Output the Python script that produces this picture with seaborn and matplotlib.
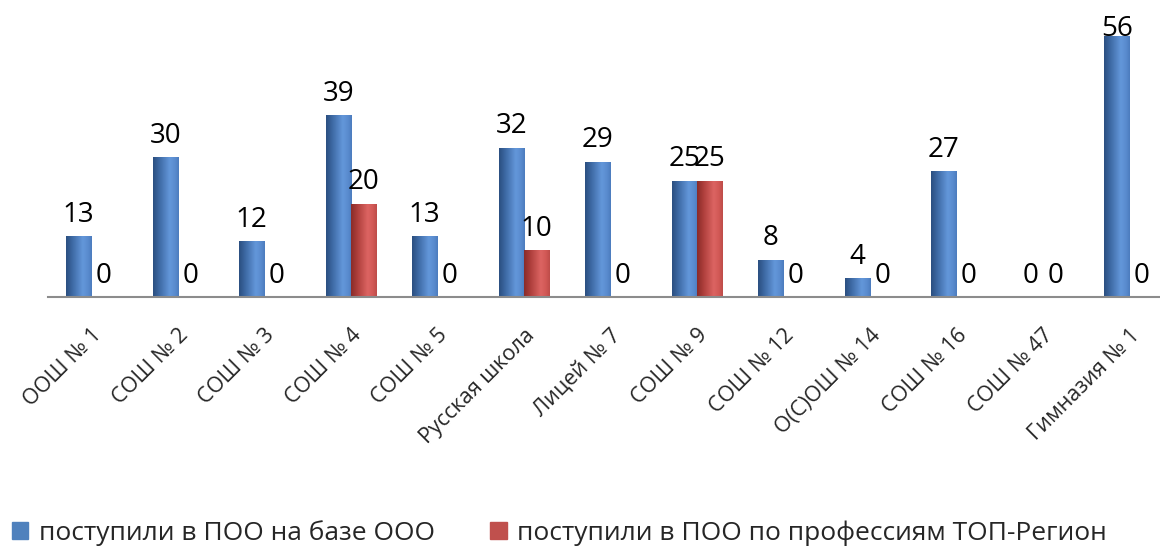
import numpy as np
import pandas as pd
import matplotlib
matplotlib.use("Agg")
import matplotlib.pyplot as plt
import matplotlib.patches as mpatches
from matplotlib.colors import LinearSegmentedColormap
import seaborn as sns

categories = ["ООШ № 1", "СОШ № 2", "СОШ № 3", "СОШ № 4", "СОШ № 5", "Русская школа",
              "Лицей № 7", "СОШ № 9", "СОШ № 12", "О(С)ОШ № 14", "СОШ № 16", "СОШ № 47",
              "Гимназия № 1"]
series_names = ["поступили в ПОО на базе ООО", "поступили в ПОО по профессиям ТОП-Регион"]
base_values = [13, 30, 12, 39, 13, 32, 29, 25, 8, 4, 27, 0, 56]
top_values = [0, 0, 0, 20, 0, 10, 0, 25, 0, 0, 0, 0, 0]

sns.set_theme(style="white")
FONT = ["Open Sans", "DejaVu Sans"]
plt.rcParams["font.family"] = FONT

df = pd.DataFrame({
    "cat": categories * 2,
    "series": [series_names[0]] * len(categories) + [series_names[1]] * len(categories),
    "value": base_values + top_values,
})

W, H = 1160, 550
fig = plt.figure(figsize=(W / 100, H / 100), dpi=100)
left_px, right_px = 48, 48 + 13 * 86.5
base_px, top_px = 297, 297 - 60 * 4.66
ax = fig.add_axes([left_px / W, (H - base_px) / H, (right_px - left_px) / W, (base_px - top_px) / H])

solid = {series_names[0]: "#4F81BD", series_names[1]: "#C0504D"}
sns.barplot(data=df, x="cat", y="value", hue="series", palette=solid, width=0.58,
            ax=ax, legend=False, saturation=1, edgecolor="none")

cmaps = {
    series_names[0]: LinearSegmentedColormap.from_list(
        "b", [(0, "#2B4F80"), (0.25, "#3E6AA5"), (0.65, "#6397DA"), (0.85, "#5A8CCF"), (1, "#4C7CBE")]),
    series_names[1]: LinearSegmentedColormap.from_list(
        "r", [(0, "#8A2B29"), (0.25, "#AE3F3C"), (0.65, "#DC6462"), (0.85, "#D25956"), (1, "#BE4C49")]),
}
grad = np.linspace(0, 1, 64).reshape(1, -1)
n = len(categories)
for i, p in enumerate(ax.patches[:2 * n]):
    s = series_names[i // n]
    h = p.get_height()
    if h <= 0:
        continue
    x0 = p.get_x()
    im = ax.imshow(grad, cmap=cmaps[s], extent=[x0, x0 + p.get_width(), 0, h],
                   aspect="auto", zorder=p.get_zorder() + 0.1, interpolation="bilinear")
    im.set_clip_path(p)

ax.set_xlim(-0.5, 12.5)
ax.set_ylim(0, 60)

# value labels
ppu = 4.66  # pixels per unit
for j in range(n):
    for k, vals in enumerate([base_values, top_values]):
        v = vals[j]
        xc = j - 0.145 if k == 0 else j + 0.145
        off = 14.4
        top_text_px = base_px - v * ppu - 20 - 22
        if top_text_px < 16:
            off = max(0, off - (16 - top_text_px) / 1.0)
        ax.annotate(str(v), (xc, v), xytext=(0, off), textcoords="offset pixels",
                    ha="center", va="baseline", fontsize=20, color="black",
                    annotation_clip=False, family=FONT)

# axes styling
for sp in ["top", "right", "left"]:
    ax.spines[sp].set_visible(False)
ax.spines["bottom"].set_color("#8C8C8C")
ax.spines["bottom"].set_linewidth(1.5)
ax.set_yticks([])
ax.set_xlabel("")
ax.set_ylabel("")
ax.set_xticks(range(n))
ax.set_xticklabels(categories, rotation=45, ha="right", rotation_mode="anchor",
                   fontsize=15.5, family=FONT)
ax.tick_params(axis="x", which="major", length=0, pad=20)
ax.set_xticks(np.arange(-0.5, n, 1), minor=True)
ax.tick_params(axis="x", which="minor", length=6, width=1.5, color="#8C8C8C", direction="out")

handles = [mpatches.Patch(color=solid[s], label=s) for s in series_names]
fig.legend(handles=handles, loc="center left", bbox_to_anchor=(12 / W, (H - 533) / H),
           ncol=2, frameon=False, borderpad=0, borderaxespad=0,
           handlelength=0.62, handleheight=0.62,
           handletextpad=0.4, columnspacing=2.1, prop={"family": FONT, "size": 19})

fig.savefig("out.png", dpi=100)
